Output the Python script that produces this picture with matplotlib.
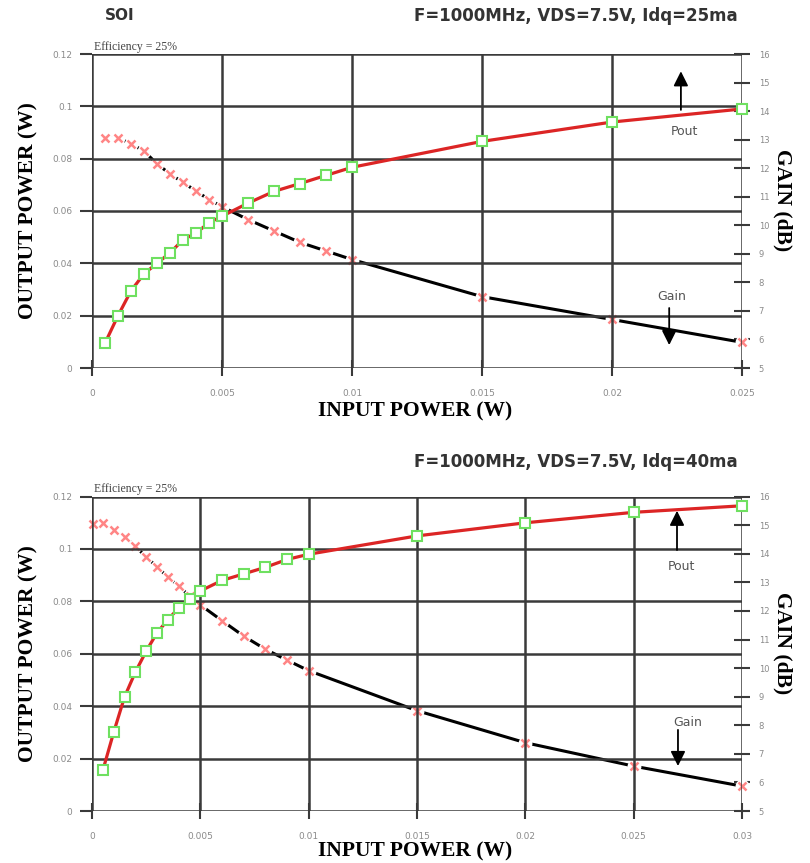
import matplotlib
matplotlib.use("Agg")
import matplotlib.pyplot as plt

# ---------------- data ----------------
x_top = [0.0005, 0.001, 0.0015, 0.002, 0.0025, 0.003, 0.0035, 0.004, 0.0045, 0.005,
         0.006, 0.007, 0.008, 0.009, 0.01, 0.015, 0.02, 0.025]
pout_top = [0.0095, 0.020, 0.0295, 0.036, 0.040, 0.044, 0.049, 0.0516, 0.0555, 0.058,
            0.063, 0.0675, 0.0705, 0.0736, 0.0767, 0.0866, 0.094, 0.099]
gain_top = [13.07, 13.07, 12.85, 12.6, 12.15, 11.8, 11.5, 11.2, 10.9, 10.65,
            10.2, 9.8, 9.4, 9.1, 8.8, 7.5, 6.7, 5.9]

x_bot = [0.0005, 0.001, 0.0015, 0.002, 0.0025, 0.003, 0.0035, 0.004, 0.0045, 0.005,
         0.006, 0.007, 0.008, 0.009, 0.01, 0.015, 0.02, 0.025, 0.03]
pout_bot = [0.0155, 0.030, 0.0435, 0.053, 0.061, 0.068, 0.073, 0.0775, 0.081, 0.084,
            0.088, 0.0905, 0.093, 0.096, 0.098, 0.105, 0.110, 0.114, 0.1165]
gain_x_bot = [0.00005] + x_bot
gain_bot = [15.05, 15.07, 14.83, 14.6, 14.27, 13.88, 13.55, 13.18, 12.88, 12.52,
            12.21, 11.66, 11.12, 10.66, 10.28, 9.91, 8.51, 7.39, 6.57, 5.87]

xticks_top = [0, 0.005, 0.01, 0.015, 0.02, 0.025]
xticklabels_top = ["0", "0.005", "0.01", "0.015", "0.02", "0.025"]
xticks_bot = [0, 0.005, 0.01, 0.015, 0.02, 0.025, 0.03]
xticklabels_bot = ["0", "0.005", "0.01", "0.015", "0.02", "0.025", "0.03"]
yticks = [0, 0.02, 0.04, 0.06, 0.08, 0.1, 0.12]
yticklabels = ["0", "0.02", "0.04", "0.06", "0.08", "0.1", "0.12"]
gticks = list(range(5, 17))
gticklabels = [str(v) for v in gticks]

title_left = "SOI"
title_top = "F=1000MHz, VDS=7.5V, Idq=25ma"
title_bot = "F=1000MHz, VDS=7.5V, Idq=40ma"
eff_text = "Efficiency = 25%"

# ---------------- figure ----------------
W, H = 810, 863
fig = plt.figure(figsize=(W / 100, H / 100), dpi=100)
fig.patch.set_facecolor("white")

SERIF = ["Liberation Serif", "DejaVu Serif"]
TICKC = "#8a8a8a"
GRIDC = "#3a3a3a"


def ax_rect(left, top, right, bottom):
    return [left / W, 1 - bottom / H, (right - left) / W, (bottom - top) / H]


def make_panel(rect, xs, pout, gx, gain, xticks, xtl, xmax, arrows, xlab_y):
    ax = fig.add_axes(rect)
    ax.set_xlim(0, xmax)
    ax.set_ylim(0, 0.12)
    ax.set_xticks(xticks)
    ax.set_xticklabels(xtl)
    ax.set_yticks(yticks)
    ax.set_yticklabels(yticklabels)
    ax.grid(True, color=GRIDC, lw=1.8, zorder=0)
    for s in ax.spines.values():
        s.set_visible(False)
    ax.tick_params(axis="y", direction="out", length=9, width=1.5, color=GRIDC,
                   labelsize=6.5, labelcolor=TICKC, pad=5)
    ax.tick_params(axis="x", direction="inout", length=12, width=1.5, color=GRIDC,
                   labelsize=6.5, labelcolor=TICKC, pad=9)
    for lab in ax.get_xticklabels() + ax.get_yticklabels():
        lab.set_fontfamily("DejaVu Sans")

    ax2 = ax.twinx()
    ax2.set_ylim(5, 16)
    ax2.set_yticks(gticks)
    ax2.set_yticklabels(gticklabels)
    for s in ax2.spines.values():
        s.set_visible(False)
    ax2.tick_params(axis="y", direction="inout", length=12, width=1.5, color=GRIDC,
                    labelsize=6, labelcolor=TICKC, pad=6)

    # gain: black line, white halo, pink x markers
    ax2.plot(gx, gain, color="black", lw=2.2, zorder=3, clip_on=False)
    ax2.plot(gx, gain, ls="none", marker="o", ms=10, mfc="white", mec="none",
             zorder=4, clip_on=False)
    ax2.plot(gx, gain, ls="none", marker="x", ms=5.5, mew=1.8, color="#ff8585",
             zorder=5, clip_on=False)

    # pout: red line, hollow green squares
    ax.set_zorder(ax2.get_zorder() + 1)
    ax.patch.set_visible(False)
    ax.plot(xs, pout, color="#dc2525", lw=2.3, zorder=6, clip_on=False)
    ax.plot(xs, pout, ls="none", marker="s", ms=6.5, mfc="white", mec="#6fe060",
            mew=1.5, zorder=7, clip_on=False)

    ax.set_xlabel("INPUT POWER (W)", family=SERIF, weight="bold", fontsize=15.5,
                  va="center")
    ax.set_ylabel("OUTPUT POWER (W)", family=SERIF, weight="bold", fontsize=15.5,
                  va="center")
    ax.xaxis.set_label_coords(0.497, xlab_y)
    ax.yaxis.set_label_coords(-0.098, 0.5)
    ax2.set_ylabel("GAIN (dB)", family=SERIF, weight="bold", fontsize=15.5,
                   rotation=-90, va="center")
    ax2.yaxis.set_label_coords(1.063, 0.535)

    ax.text(0.003, 1.004, eff_text, transform=ax.transAxes, family=SERIF,
            fontsize=8.5, color="#444444", va="bottom", ha="left")

    (pa_x, pa_tip, pa_base, pt_x, pt_y, ga_x, ga_base, ga_tip, gt_x, gt_y) = arrows
    ap = dict(arrowstyle="-|>", mutation_scale=22, lw=1.3, color="black",
              shrinkA=0, shrinkB=0)
    ax.annotate("", xy=(pa_x, pa_tip), xytext=(pa_x, pa_base),
                xycoords="axes fraction", textcoords="axes fraction",
                arrowprops=ap, zorder=8)
    ax.annotate("", xy=(ga_x, ga_tip), xytext=(ga_x, ga_base),
                xycoords="axes fraction", textcoords="axes fraction",
                arrowprops=ap, zorder=8)
    ax.text(pt_x, pt_y, "Pout", transform=ax.transAxes, fontsize=9,
            color="#555555", ha="center", va="center", family="DejaVu Sans")
    ax.text(gt_x, gt_y, "Gain", transform=ax.transAxes, fontsize=9,
            color="#555555", ha="center", va="center", family="DejaVu Sans")
    return ax


make_panel(ax_rect(92, 54, 742, 368), x_top, pout_top, x_top, gain_top,
           xticks_top, xticklabels_top, 0.025,
           (0.906, 0.945, 0.822, 0.912, 0.752, 0.888, 0.191, 0.073, 0.892, 0.229),
           -0.14)
make_panel(ax_rect(92, 496.6, 742, 811), x_bot, pout_bot, gain_x_bot, gain_bot,
           xticks_bot, xticklabels_bot, 0.03,
           (0.900, 0.955, 0.830, 0.907, 0.777, 0.9015, 0.258, 0.143, 0.917, 0.280),
           -0.128)

fig.text(105 / W, 1 - 16 / H, title_left, fontsize=11, weight="bold",
         color="#333333", ha="left", va="center", family="DejaVu Sans")
fig.text(738 / W, 1 - 16 / H, title_top, fontsize=12, weight="bold",
         color="#333333", ha="right", va="center", family="DejaVu Sans")
fig.text(738 / W, 1 - 462 / H, title_bot, fontsize=12, weight="bold",
         color="#333333", ha="right", va="center", family="DejaVu Sans")

fig.savefig("out.png", dpi=100, facecolor="white")
